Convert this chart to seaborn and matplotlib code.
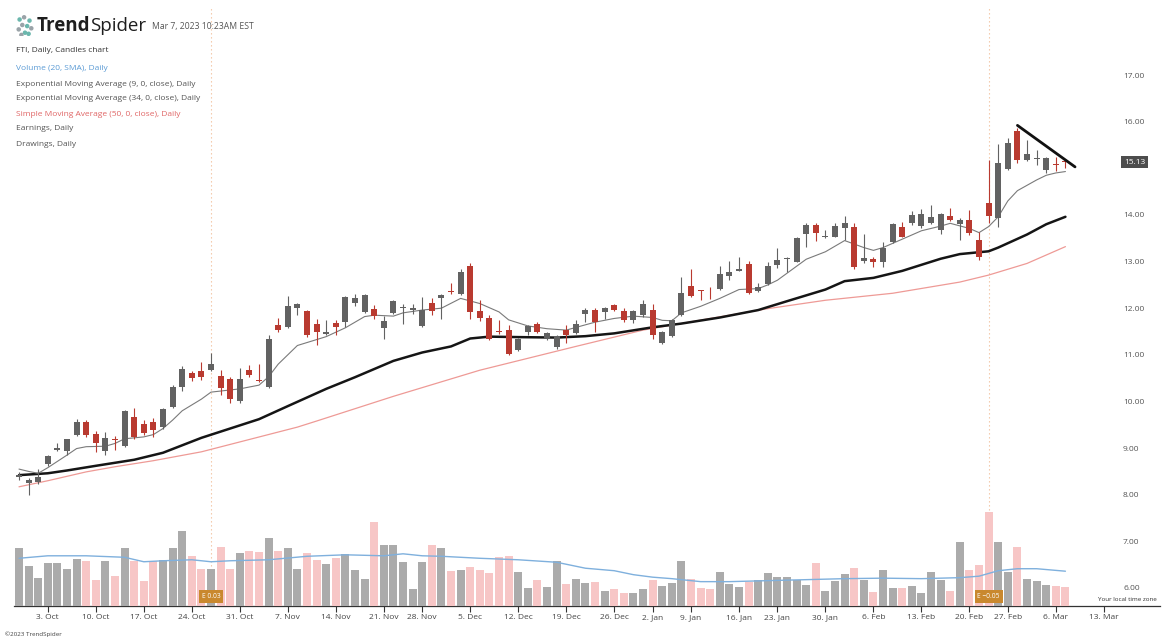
import numpy as np
import pandas as pd
import matplotlib
matplotlib.use("Agg")
import matplotlib.pyplot as plt
import matplotlib.transforms as mtransforms
import seaborn as sns

# trading calendar (market holidays inside the window)
holidays = ["2022-11-24", "2022-12-26", "2023-01-02", "2023-01-16", "2023-02-20"]
trade_days = pd.bdate_range("2022-09-28", "2023-03-17", freq="C", holidays=holidays)

# FTI daily candles, 28 Sep 2022 - 7 Mar 2023
opens = [8.37, 8.25, 8.28, 8.65, 8.96, 8.93, 9.29, 9.57, 9.31, 8.94,
         9.20, 9.04, 9.67, 9.51, 9.56, 9.45, 9.88, 10.31, 10.62, 10.66,
         10.67, 10.55, 10.49, 10.00, 10.67, 10.47, 10.31, 11.65, 11.60, 12.00,
         11.94, 11.67, 11.45, 11.69, 11.71, 12.12, 11.92, 11.99, 11.58, 11.89,
         12.00, 11.97, 11.61, 12.12, 12.21, 12.37, 12.30, 12.90, 11.94, 11.78,
         11.52, 11.54, 11.10, 11.49, 11.66, 11.35, 11.16, 11.54, 11.47, 11.88,
         11.96, 11.91, 12.06, 11.94, 11.75, 11.85, 11.96, 11.25, 11.40, 11.85,
         12.47, 12.38, 12.40, 12.42, 12.69, 12.80, 12.94, 12.37, 12.52, 12.92,
         13.05, 13.00, 13.60, 13.79, 13.52, 13.53, 13.71, 13.74, 13.01, 13.05,
         12.98, 13.42, 13.74, 13.82, 13.76, 13.82, 13.67, 13.98, 13.80, 13.89,
         13.46, 14.26, 13.93, 14.98, 15.80, 15.18, 15.20, 14.96, 15.10, 15.16]
highs = [8.49, 8.35, 8.56, 8.85, 9.11, 9.20, 9.62, 9.61, 9.37, 9.35,
         9.26, 9.82, 9.85, 9.61, 9.65, 9.85, 10.35, 10.75, 10.66, 10.85,
         11.03, 10.68, 10.52, 10.71, 10.78, 10.80, 11.42, 11.80, 12.26, 12.12,
         11.97, 11.76, 11.74, 11.74, 12.27, 12.30, 12.30, 12.06, 11.83, 12.18,
         12.10, 12.09, 12.24, 12.21, 12.30, 12.53, 12.85, 12.96, 12.17, 11.85,
         11.74, 11.64, 11.37, 11.64, 11.70, 11.50, 11.42, 11.64, 11.74, 12.01,
         12.00, 12.02, 12.08, 12.00, 11.96, 12.17, 12.09, 11.52, 11.76, 12.66,
         12.83, 12.40, 12.45, 12.90, 13.02, 13.09, 13.02, 12.53, 12.98, 13.28,
         13.10, 13.53, 13.82, 13.82, 13.67, 13.82, 13.98, 13.83, 13.59, 13.10,
         13.42, 13.82, 13.85, 14.09, 14.12, 14.21, 14.04, 14.14, 13.93, 14.10,
         13.64, 15.18, 15.53, 15.66, 15.86, 15.61, 15.39, 15.24, 15.25, 15.18]
lows = [8.31, 7.99, 8.24, 8.62, 8.94, 8.86, 9.27, 9.24, 8.92, 8.85,
        8.96, 9.02, 9.20, 9.28, 9.24, 9.42, 9.87, 10.23, 10.44, 10.47,
        10.65, 10.13, 9.97, 9.97, 10.53, 10.42, 10.29, 11.49, 11.57, 11.85,
        11.38, 11.21, 11.42, 11.42, 11.60, 12.04, 11.90, 11.76, 11.33, 11.87,
        11.66, 11.88, 11.59, 11.85, 11.77, 12.30, 12.28, 11.76, 11.73, 11.31,
        11.45, 10.99, 11.08, 11.43, 11.46, 11.31, 11.12, 11.25, 11.45, 11.71,
        11.49, 11.76, 11.94, 11.71, 11.68, 11.82, 11.33, 11.23, 11.38, 11.83,
        12.24, 12.17, 12.20, 12.40, 12.61, 12.79, 12.30, 12.35, 12.50, 12.87,
        12.78, 12.98, 13.32, 13.45, 13.50, 13.52, 13.46, 12.83, 12.96, 12.88,
        12.89, 13.40, 13.52, 13.78, 13.71, 13.80, 13.60, 13.86, 13.46, 13.58,
        13.03, 13.82, 13.74, 14.96, 15.11, 15.16, 15.07, 14.89, 14.95, 15.00]
closes = [8.42, 8.32, 8.37, 8.82, 9.01, 9.19, 9.57, 9.29, 9.10, 9.22,
          9.17, 9.79, 9.24, 9.33, 9.38, 9.83, 10.31, 10.69, 10.50, 10.53,
          10.81, 10.28, 10.06, 10.49, 10.57, 10.44, 11.33, 11.54, 12.04, 12.10,
          11.42, 11.49, 11.50, 11.59, 12.23, 12.21, 12.28, 11.83, 11.72, 12.16,
          12.02, 12.00, 11.96, 11.94, 12.28, 12.34, 12.78, 11.92, 11.78, 11.33,
          11.50, 11.02, 11.35, 11.61, 11.49, 11.47, 11.40, 11.43, 11.66, 11.96,
          11.71, 12.01, 11.96, 11.74, 11.94, 12.10, 11.42, 11.49, 11.74, 12.33,
          12.26, 12.36, 12.38, 12.73, 12.78, 12.83, 12.32, 12.46, 12.91, 13.03,
          13.07, 13.50, 13.78, 13.61, 13.54, 13.76, 13.82, 12.89, 13.07, 13.00,
          13.28, 13.80, 13.53, 14.00, 14.02, 13.95, 14.02, 13.90, 13.89, 13.62,
          13.10, 13.97, 15.12, 15.55, 15.18, 15.30, 15.22, 15.21, 15.08, 15.13]
# volume, millions of shares
volume = [11.6, 8.1, 5.6, 8.7, 8.7, 7.5, 9.5, 9.1, 5.3, 9.1,
          6.1, 11.7, 9.1, 5.1, 9.1, 9.3, 11.7, 15.1, 10.1, 7.5,
          7.5, 11.9, 7.5, 10.6, 11.1, 10.8, 13.6, 11.1, 11.6, 7.5,
          10.6, 9.3, 8.5, 9.6, 10.5, 7.3, 5.5, 16.9, 12.3, 12.3,
          8.9, 3.5, 8.8, 12.3, 11.6, 7.0, 7.3, 7.9, 7.3, 6.7,
          9.9, 10.1, 6.9, 3.6, 5.3, 3.8, 9.1, 4.5, 5.5, 4.7,
          4.8, 3.1, 3.5, 2.6, 2.6, 3.5, 5.3, 4.1, 4.7, 9.0,
          5.5, 3.6, 3.5, 6.8, 4.5, 3.8, 4.8, 5.3, 6.7, 5.9,
          5.8, 5.3, 4.3, 8.6, 3.0, 5.0, 6.5, 7.7, 5.3, 2.9,
          7.3, 3.6, 3.6, 4.0, 2.7, 6.8, 5.3, 3.0, 12.8, 7.3,
          8.3, 18.9, 12.8, 6.8, 11.8, 5.4, 5.1, 4.3, 4.0, 3.8]

# indicator lines (bar index -> value)
ema9_idx = [0, 1, 2, 3, 5, 6, 7, 9, 10, 11, 13, 14, 15, 16, 17, 19, 20, 23, 25, 26,
            27, 29, 32, 34, 36, 37, 39, 40, 42, 44, 46, 48, 50, 51, 53, 55, 57, 60, 62, 64,
            66, 67, 68, 69, 71, 73, 75, 77, 78, 79, 81, 82, 84, 86, 88, 89, 90, 92, 94, 96,
            97, 99, 100, 101, 102, 103, 104, 106, 107, 108, 109]
ema9 = [8.55, 8.50, 8.46, 8.58, 8.85, 8.99, 9.03, 9.04, 9.10, 9.20, 9.24, 9.29, 9.42, 9.60, 9.80, 10.05, 10.20, 10.27, 10.35, 10.53,
        10.80, 11.20, 11.39, 11.58, 11.82, 11.85, 11.83, 11.90, 11.96, 12.00, 12.21, 12.10, 11.92, 11.75, 11.62, 11.56, 11.53, 11.70, 11.78, 11.83,
        11.80, 11.74, 11.73, 11.90, 12.04, 12.21, 12.40, 12.42, 12.50, 12.60, 12.90, 13.05, 13.21, 13.45, 13.30, 13.24, 13.30, 13.48, 13.66, 13.76,
        13.82, 13.71, 13.62, 13.75, 13.96, 14.30, 14.52, 14.75, 14.85, 14.90, 14.93]
ema34_idx = [0, 3, 5, 8, 12, 15, 19, 22, 25, 28, 32, 35, 39, 42, 45, 47, 49, 52, 56, 59,
             62, 66, 69, 73, 77, 80, 84, 86, 89, 92, 96, 98, 100, 101, 102, 105, 107, 109]
ema34 = [8.42, 8.46, 8.52, 8.62, 8.75, 8.90, 9.22, 9.42, 9.62, 9.90, 10.27, 10.52, 10.87, 11.05, 11.18, 11.35, 11.39, 11.38, 11.37, 11.40,
         11.46, 11.59, 11.67, 11.80, 11.96, 12.15, 12.40, 12.58, 12.65, 12.80, 13.06, 13.16, 13.20, 13.22, 13.30, 13.58, 13.80, 13.96]
sma50_idx = [0, 3, 7, 10, 14, 19, 29, 31, 39, 48, 58, 65, 72, 78, 84, 91, 98, 101, 105, 109]
sma50 = [8.17, 8.30, 8.49, 8.60, 8.73, 8.92, 9.45, 9.58, 10.11, 10.67, 11.18, 11.53, 11.78, 11.99, 12.17, 12.32, 12.56, 12.71, 12.96, 13.32]
vol_sma_idx = [0, 3, 7, 11, 13, 15, 18, 20, 22, 26, 30, 34, 38, 40, 42, 44, 48, 52, 56, 59,
               62, 64, 66, 68, 71, 74, 78, 82, 86, 90, 94, 98, 100, 102, 104, 106, 109]
vol_sma = [9.6, 10.1, 10.1, 9.8, 8.9, 9.1, 9.3, 8.9, 9.1, 9.3, 10.0, 10.3, 10.1, 10.5, 10.1, 10.0, 9.6, 9.3, 8.8, 7.6,
           7.1, 6.3, 5.8, 5.5, 4.9, 4.9, 5.1, 5.3, 5.5, 5.6, 5.5, 5.7, 6.0, 7.1, 7.5, 7.5, 7.0]

# drawn trendline (bar index, price)
trend_x = [104, 110]
trend_y = [15.92, 15.03]

# earnings: bar index and label
earn_idx = [20, 101]
earn_txt = ["E 0.03", "E \u22120.05"]

week_starts = ["2022-10-03", "2022-10-10", "2022-10-17", "2022-10-24", "2022-10-31", "2022-11-07",
               "2022-11-14", "2022-11-21", "2022-11-28", "2022-12-05", "2022-12-12", "2022-12-19",
               "2022-12-26", "2023-01-02", "2023-01-09", "2023-01-16", "2023-01-23", "2023-01-30",
               "2023-02-06", "2023-02-13", "2023-02-20", "2023-02-27", "2023-03-06", "2023-03-13"]
week_labels = ["3. Oct", "10. Oct", "17. Oct", "24. Oct", "31. Oct", "7. Nov", "14. Nov", "21. Nov",
               "28. Nov", "5. Dec", "12. Dec", "19. Dec", "26. Dec", "2. Jan", "9. Jan", "16. Jan",
               "23. Jan", "30. Jan", "6. Feb", "13. Feb", "20. Feb", "27. Feb", "6. Mar", "13. Mar"]
price_ticks = [6, 7, 8, 9, 10, 11, 12, 13, 14, 16, 17]
last_price = 15.13

legend_lines = [("FTI, Daily, Candles chart", "#333333"),
                ("Volume (20, SMA), Daily", "#5b9bd5"),
                ("Exponential Moving Average (9, 0, close), Daily", "#555555"),
                ("Exponential Moving Average (34, 0, close), Daily", "#555555"),
                ("Simple Moving Average (50, 0, close), Daily", "#e06666"),
                ("Earnings, Daily", "#555555"),
                ("Drawings, Daily", "#555555")]

sns.set_theme(style="white")
plt.rcParams['font.family'] = ['Open Sans', 'DejaVu Sans']

W, H = 1170, 642
fig = plt.figure(figsize=(W / 100, H / 100), dpi=100)
ax = fig.add_axes([14 / W, 36 / H, 1146 / W, 598 / H])

o = np.array(opens); h = np.array(highs); l = np.array(lows); c = np.array(closes)
idx = np.arange(len(c))
up = c >= o
candle_col = np.where(up, "#626262", "#b93a30")

# volume on a twin axis at the bottom
axv = ax.twinx()
axv.bar(idx, volume, width=0.82, color=np.where(up, "#ababab", "#f7c6c6"), linewidth=0, zorder=1)
sns.lineplot(x=vol_sma_idx, y=vol_sma, ax=axv, color="#7fb0dd", lw=1.0, zorder=2)
axv.set_ylim(0, 120.3)
axv.set_yticks([])
axv.set_ylabel("")
for s in axv.spines.values():
    s.set_visible(False)

for i, t in zip(earn_idx, earn_txt):
    ax.axvline(i, color="#f2c2a0", lw=0.8, ls=(0, (1.2, 2.4)), zorder=0)
    axv.text(i, 1.9, t, ha="center", va="center", fontsize=4.8, color="white", zorder=5,
             bbox=dict(boxstyle="square,pad=0.4", fc="#c9882e", ec="none"))

# candles
ax.vlines(idx, l, h, colors=candle_col, lw=0.8, zorder=3)
ax.bar(idx, np.maximum(np.abs(c - o), 0.015), bottom=np.minimum(o, c), width=0.62,
       color=candle_col, linewidth=0, zorder=4)

sns.lineplot(x=sma50_idx, y=sma50, ax=ax, color="#ee9a96", lw=0.9, zorder=2)
sns.lineplot(x=ema34_idx, y=ema34, ax=ax, color="#151515", lw=1.8, zorder=2)
sns.lineplot(x=ema9_idx, y=ema9, ax=ax, color="#7a7a7a", lw=0.8, zorder=2)
sns.lineplot(x=trend_x, y=trend_y, ax=ax, color="#111111", lw=2.0, zorder=5)

ax.set_xlim(-0.52, 118.85)
ax.set_ylim(5.614, 18.437)
ax.set_xlabel("")
ax.set_ylabel("")

tick_pos = trade_days.searchsorted(pd.to_datetime(week_starts))
ax.set_xticks(tick_pos)
ax.set_xticklabels(week_labels)
ax.tick_params(axis="x", length=4, width=0.8, color="#333333", labelsize=6,
               labelcolor="#444444", pad=2, bottom=True)

ax.yaxis.tick_right()
ax.set_yticks(price_ticks)
ax.set_yticklabels([f"{v:.2f}" for v in price_ticks])
ax.tick_params(axis="y", length=0, pad=-26.6, labelsize=6, labelcolor="#555555")
for lab in ax.get_yticklabels():
    lab.set_horizontalalignment("left")

for name, s in ax.spines.items():
    s.set_visible(name == "bottom")
ax.spines["bottom"].set_color("#333333")
ax.spines["bottom"].set_linewidth(0.9)

blend = mtransforms.blended_transform_factory(ax.transAxes, ax.transData)
ax.text(0.9685, last_price, f"{last_price:.2f}", transform=blend, ha="left", va="center",
        fontsize=6, color="white", zorder=6,
        bbox=dict(boxstyle="square,pad=0.3", fc="#4d4d4d", ec="none"))
ax.text(0.997, 0.006, "Your local time zone", transform=ax.transAxes, ha="right", va="bottom",
        fontsize=4.5, color="#333333")

# header: logo mark, brand name, timestamp, indicator list
logo = fig.add_axes([16 / W, 1 - 36 / H, 18 / W, 22 / H])
logo_x = [0.2, 0.45, 0.75, 0.35, 0.62, 0.15, 0.85, 0.5, 0.3, 0.7]
logo_y = [0.75, 0.85, 0.7, 0.5, 0.45, 0.3, 0.35, 0.15, 0.05, 0.1]
logo.scatter(logo_x, logo_y, s=5, color=["#6bb7ad", "#9aa3a8", "#6bb7ad", "#9aa3a8", "#6bb7ad",
                                         "#9aa3a8", "#9aa3a8", "#6bb7ad", "#9aa3a8", "#6bb7ad"])
logo.set_xlim(0, 1); logo.set_ylim(0, 1); logo.axis("off")

t1 = fig.text(37 / W, 1 - 26 / H, "Trend", fontsize=13.5, fontweight="bold", color="#1e1e1e", va="center")
fig.canvas.draw()
bb = t1.get_window_extent()
fig.text(bb.x1 / W, 1 - 26 / H, "Spider", fontsize=13.5, color="#1e1e1e", va="center")
fig.text(152 / W, 1 - 27 / H, "Mar 7, 2023 10:23AM EST", fontsize=6.2, color="#555555", va="center")

for k, (txt, col) in enumerate(legend_lines):
    fig.text(16 / W, 1 - (50 + k * 15 + (4 if k > 0 else 0)) / H, txt, fontsize=6, color=col, va="center")

fig.text(5 / W, 1 - 634 / H, "\u00a92023 TrendSpider", fontsize=4.5, color="#444444", va="center")

fig.savefig("out.png", dpi=100)
